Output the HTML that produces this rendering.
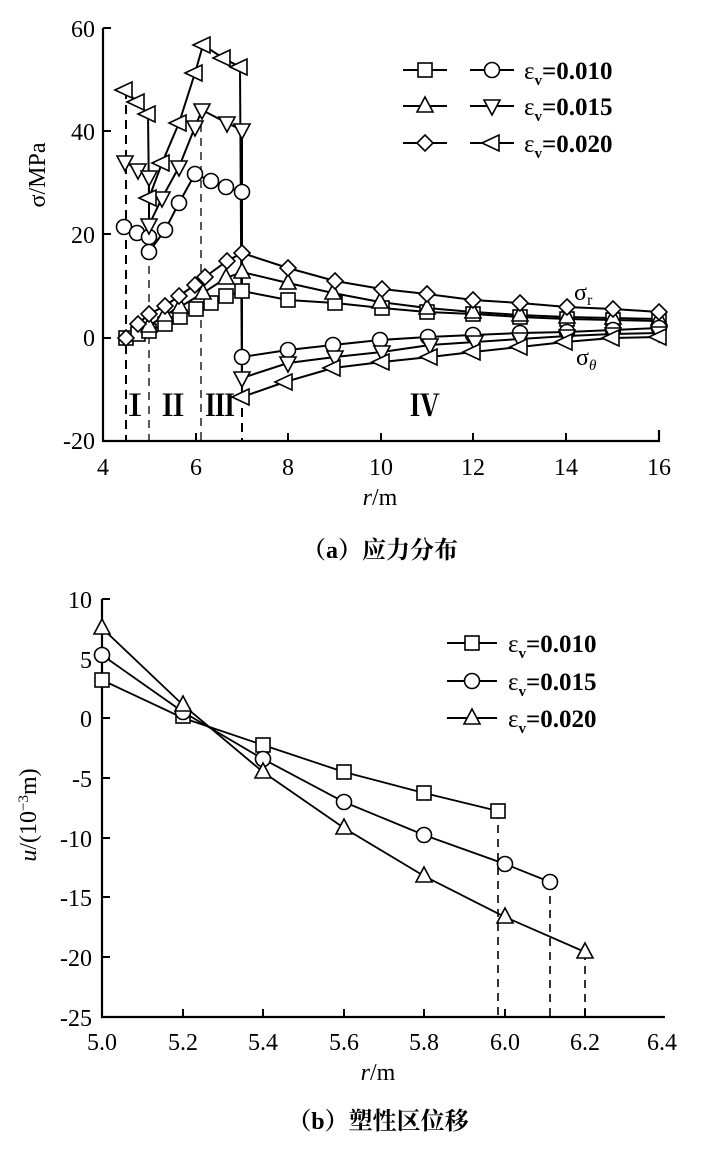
<!DOCTYPE html>
<html><head><meta charset="utf-8"><style>
html,body{margin:0;padding:0;background:#fff;}
svg{display:block;font-family:"Liberation Serif","Noto Serif CJK SC",serif;}
</style></head><body>
<svg width="705" height="1150" viewBox="0 0 705 1150" xmlns="http://www.w3.org/2000/svg">
<defs>
<g id="sq"><rect x="-7" y="-7" width="14" height="14" fill="#fff" stroke="#000" stroke-width="1.6"/></g>
<g id="ci"><circle r="7.5" fill="#fff" stroke="#000" stroke-width="1.6"/></g>
<g id="tu"><polygon points="0,-9 8,6 -8,6" fill="#fff" stroke="#000" stroke-width="1.6"/></g>
<g id="td"><polygon points="0,9 8,-6 -8,-6" fill="#fff" stroke="#000" stroke-width="1.6"/></g>
<g id="di"><polygon points="0,-8 8,0 0,8 -8,0" fill="#fff" stroke="#000" stroke-width="1.6"/></g>
<g id="tl"><polygon points="-10,0 7,-8 7,8" fill="#fff" stroke="#000" stroke-width="1.6"/></g>
</defs>

<!-- ===== Chart a ===== -->
<g stroke="#000" fill="none">
<path d="M103,28 V441 H659 V430" stroke-width="2.2"/>
<path d="M103,28 h8 M103,131 h8 M103,234 h8 M103,338 h8 M196,441 v-8 M288,441 v-8 M381,441 v-8 M473,441 v-8 M566,441 v-8" stroke-width="2"/>
<path d="M126,90 V441" stroke-width="2" stroke-dasharray="9,6"/>
<path d="M149,252 V441" stroke-width="1.3" stroke-dasharray="8,6"/>
<path d="M201,110 V441" stroke-width="1.3" stroke-dasharray="8,6"/>
<path d="M242,378 V441" stroke-width="2" stroke-dasharray="9,6"/>
<g stroke-width="2">
<polyline points="126,338 138,334 149,331 165,324 180,317 196,309 211,303 226,296 242,291 288,300 335,303 382,308 427,312 473,314 520,317 567,319 613,320 659,321"/>
<polyline points="126,338 149,326 165,315 180,307 203,293 226,278 242,272 288,283 333,293 380,302 427,308 473,312 520,315 567,317 613,318 659,319"/>
<polyline points="126,338 138,324 149,314 165,306 179,296 195,285 205,277 227,261 242,253 288,268 335,281 382,289 427,294 473,300 520,303 567,307 613,309 659,312"/>
<polyline points="124,227 137,233 149,237 149,252 165,230 179,203 195,174 211,181 226,187 242,192 242,357 288,350 333,345 380,340 428,337 473,335 520,333 567,332 613,330 659,328"/>
<polyline points="125,162 138,170 149,177 149,225 162,198 179,167 195,127 202,110 227,123 242,130 242,378 288,363 335,357 382,352 430,345 475,342 520,339 567,336 613,334 659,333"/>
<polyline points="125,90 137,102 148,114 149,198 162,163 179,123 195,73 203,45 223,58 240,67 242,397 285,382 333,368 382,362 430,357 473,352 520,347 565,342 612,338 659,337"/>
</g>
</g>
<g>
<use href="#sq" x="126" y="338"/><use href="#sq" x="138" y="334"/><use href="#sq" x="149" y="331"/><use href="#sq" x="165" y="324"/><use href="#sq" x="180" y="317"/><use href="#sq" x="196" y="309"/><use href="#sq" x="211" y="303"/><use href="#sq" x="226" y="296"/><use href="#sq" x="242" y="291"/><use href="#sq" x="288" y="300"/><use href="#sq" x="335" y="303"/><use href="#sq" x="382" y="308"/><use href="#sq" x="427" y="312"/><use href="#sq" x="473" y="314"/><use href="#sq" x="520" y="317"/><use href="#sq" x="567" y="319"/><use href="#sq" x="613" y="320"/><use href="#sq" x="659" y="321"/>
<use href="#tu" x="149" y="326"/><use href="#tu" x="165" y="315"/><use href="#tu" x="180" y="307"/><use href="#tu" x="203" y="293"/><use href="#tu" x="226" y="278"/><use href="#tu" x="242" y="272"/><use href="#tu" x="288" y="283"/><use href="#tu" x="333" y="293"/><use href="#tu" x="380" y="302"/><use href="#tu" x="427" y="308"/><use href="#tu" x="473" y="312"/><use href="#tu" x="520" y="315"/><use href="#tu" x="567" y="317"/><use href="#tu" x="613" y="318"/><use href="#tu" x="659" y="319"/>
<use href="#di" x="126" y="338"/><use href="#di" x="138" y="324"/><use href="#di" x="149" y="314"/><use href="#di" x="165" y="306"/><use href="#di" x="179" y="296"/><use href="#di" x="195" y="285"/><use href="#di" x="205" y="277"/><use href="#di" x="227" y="261"/><use href="#di" x="242" y="253"/><use href="#di" x="288" y="268"/><use href="#di" x="335" y="281"/><use href="#di" x="382" y="289"/><use href="#di" x="427" y="294"/><use href="#di" x="473" y="300"/><use href="#di" x="520" y="303"/><use href="#di" x="567" y="307"/><use href="#di" x="613" y="309"/><use href="#di" x="659" y="312"/>
<use href="#ci" x="124" y="227"/><use href="#ci" x="137" y="233"/><use href="#ci" x="149" y="237"/><use href="#ci" x="149" y="252"/><use href="#ci" x="165" y="230"/><use href="#ci" x="179" y="203"/><use href="#ci" x="195" y="174"/><use href="#ci" x="211" y="181"/><use href="#ci" x="226" y="187"/><use href="#ci" x="242" y="192"/><use href="#ci" x="242" y="357"/><use href="#ci" x="288" y="350"/><use href="#ci" x="333" y="345"/><use href="#ci" x="380" y="340"/><use href="#ci" x="428" y="337"/><use href="#ci" x="473" y="335"/><use href="#ci" x="520" y="333"/><use href="#ci" x="567" y="332"/><use href="#ci" x="613" y="330"/><use href="#ci" x="659" y="328"/>
<use href="#td" x="125" y="162"/><use href="#td" x="138" y="170"/><use href="#td" x="149" y="177"/><use href="#td" x="149" y="225"/><use href="#td" x="162" y="198"/><use href="#td" x="179" y="167"/><use href="#td" x="195" y="127"/><use href="#td" x="202" y="110"/><use href="#td" x="227" y="123"/><use href="#td" x="242" y="130"/><use href="#td" x="242" y="378"/><use href="#td" x="288" y="363"/><use href="#td" x="335" y="357"/><use href="#td" x="382" y="352"/><use href="#td" x="430" y="345"/><use href="#td" x="475" y="342"/><use href="#td" x="520" y="339"/><use href="#td" x="567" y="336"/><use href="#td" x="613" y="334"/><use href="#td" x="659" y="333"/>
<use href="#tl" x="125" y="90"/><use href="#tl" x="137" y="102"/><use href="#tl" x="148" y="114"/><use href="#tl" x="149" y="198"/><use href="#tl" x="162" y="163"/><use href="#tl" x="179" y="123"/><use href="#tl" x="195" y="73"/><use href="#tl" x="203" y="45"/><use href="#tl" x="223" y="58"/><use href="#tl" x="240" y="67"/><use href="#tl" x="242" y="397"/><use href="#tl" x="285" y="382"/><use href="#tl" x="333" y="368"/><use href="#tl" x="382" y="362"/><use href="#tl" x="430" y="357"/><use href="#tl" x="473" y="352"/><use href="#tl" x="520" y="347"/><use href="#tl" x="565" y="342"/><use href="#tl" x="612" y="338"/><use href="#tl" x="659" y="337"/>
</g>
<g stroke="#000" stroke-width="2"><path d="M403,70 h44 M470,70 h44 M403,106 h44 M470,106 h44 M403,143 h44 M470,143 h44"/></g>
<use href="#sq" x="425" y="70"/><use href="#ci" x="492" y="70"/>
<use href="#tu" x="425" y="106"/><use href="#td" x="492" y="106"/>
<use href="#di" x="425" y="143"/><use href="#tl" x="492" y="143"/>
<g font-size="25" font-weight="bold">
<text x="524" y="79"><tspan font-weight="normal">ε</tspan><tspan font-size="15" dy="6">v</tspan><tspan dy="-6">=0.010</tspan></text>
<text x="524" y="115"><tspan font-weight="normal">ε</tspan><tspan font-size="15" dy="6">v</tspan><tspan dy="-6">=0.015</tspan></text>
<text x="524" y="152"><tspan font-weight="normal">ε</tspan><tspan font-size="15" dy="6">v</tspan><tspan dy="-6">=0.020</tspan></text>
</g>
<g font-size="24" text-anchor="end">
<text x="95" y="37">60</text><text x="95" y="140">40</text><text x="95" y="243">20</text><text x="95" y="346">0</text><text x="95" y="449">-20</text>
</g>
<g font-size="24" text-anchor="middle">
<text x="103" y="475">4</text><text x="196" y="475">6</text><text x="288" y="475">8</text><text x="381" y="475">10</text><text x="473" y="475">12</text><text x="566" y="475">14</text><text x="659" y="475">16</text>
<text x="380" y="505"><tspan font-style="italic">r</tspan>/m</text>
</g>
<text transform="translate(45,175) rotate(-90)" font-size="24" text-anchor="middle">σ/MPa</text>
<g font-size="30" font-weight="bold" text-anchor="middle">
<text x="135" y="416">Ⅰ</text><text x="173" y="416">Ⅱ</text><text x="220" y="416">Ⅲ</text><text x="425" y="416">Ⅳ</text>
</g>
<text x="574" y="300" font-size="24">σ<tspan font-size="16" dy="5">r</tspan></text>
<text x="576" y="365" font-size="24">σ<tspan font-size="15" font-style="italic" dy="5">θ</tspan></text>
<text x="380" y="558" font-size="24" font-weight="bold" text-anchor="middle">（a）应力分布</text>

<!-- ===== Chart b ===== -->
<g stroke="#000" fill="none">
<path d="M102,599 V1017 H665" stroke-width="2.2"/>
<path d="M102,599 h8 M102,659 h8 M102,718 h8 M102,778 h8 M102,838 h8 M102,897 h8 M102,957 h8 M183,1017 v-8 M263,1017 v-8 M344,1017 v-8 M424,1017 v-8 M505,1017 v-8 M585,1017 v-8" stroke-width="2"/>
<path d="M498,811 V1017 M550,882 V1017 M585,952 V1017" stroke-width="1.6" stroke-dasharray="8,6"/>
<g stroke-width="1.8">
<polyline points="102,680 183,718 263,745 344,772 424,793 498,811"/>
<polyline points="102,655 183,712 263,759 344,802 424,835 505,864 550,882"/>
<polyline points="102,628 183,705 263,772 344,828 424,876 505,917 585,952"/>
</g>
</g>
<use href="#sq" x="102" y="680"/><use href="#sq" x="183" y="716"/><use href="#sq" x="263" y="745"/><use href="#sq" x="344" y="772"/><use href="#sq" x="424" y="793"/><use href="#sq" x="498" y="811"/>
<use href="#ci" x="102" y="655"/><use href="#ci" x="183" y="712"/><use href="#ci" x="263" y="759"/><use href="#ci" x="344" y="802"/><use href="#ci" x="424" y="835"/><use href="#ci" x="505" y="864"/><use href="#ci" x="550" y="882"/>
<use href="#tu" x="102" y="628"/><use href="#tu" x="183" y="705"/><use href="#tu" x="263" y="772"/><use href="#tu" x="344" y="828"/><use href="#tu" x="424" y="876"/><use href="#tu" x="505" y="917"/><use href="#tu" x="585" y="952"/>
<g stroke="#000" stroke-width="2"><path d="M447,643 h50 M447,681 h50 M447,718 h50"/></g>
<use href="#sq" x="472" y="643"/><use href="#ci" x="472" y="681"/><use href="#tu" x="472" y="718"/>
<g font-size="25" font-weight="bold">
<text x="508" y="652"><tspan font-weight="normal">ε</tspan><tspan font-size="15" dy="6">v</tspan><tspan dy="-6">=0.010</tspan></text>
<text x="508" y="690"><tspan font-weight="normal">ε</tspan><tspan font-size="15" dy="6">v</tspan><tspan dy="-6">=0.015</tspan></text>
<text x="508" y="727"><tspan font-weight="normal">ε</tspan><tspan font-size="15" dy="6">v</tspan><tspan dy="-6">=0.020</tspan></text>
</g>
<g font-size="24" text-anchor="end">
<text x="92" y="608">10</text><text x="92" y="668">5</text><text x="92" y="727">0</text><text x="92" y="787">-5</text><text x="92" y="847">-10</text><text x="92" y="906">-15</text><text x="92" y="966">-20</text><text x="92" y="1026">-25</text>
</g>
<g font-size="24" text-anchor="middle">
<text x="102" y="1050">5.0</text><text x="183" y="1050">5.2</text><text x="263" y="1050">5.4</text><text x="344" y="1050">5.6</text><text x="424" y="1050">5.8</text><text x="505" y="1050">6.0</text><text x="585" y="1050">6.2</text><text x="662" y="1050">6.4</text>
<text x="378" y="1080"><tspan font-style="italic">r</tspan>/m</text>
</g>
<text transform="translate(36,815) rotate(-90)" font-size="24" text-anchor="middle"><tspan font-style="italic">u</tspan>/(10<tspan font-size="15" dy="-8">−3</tspan><tspan dy="8">m)</tspan></text>
<text x="378" y="1129" font-size="24" font-weight="bold" text-anchor="middle">（b）塑性区位移</text>
</svg>
</body></html>
